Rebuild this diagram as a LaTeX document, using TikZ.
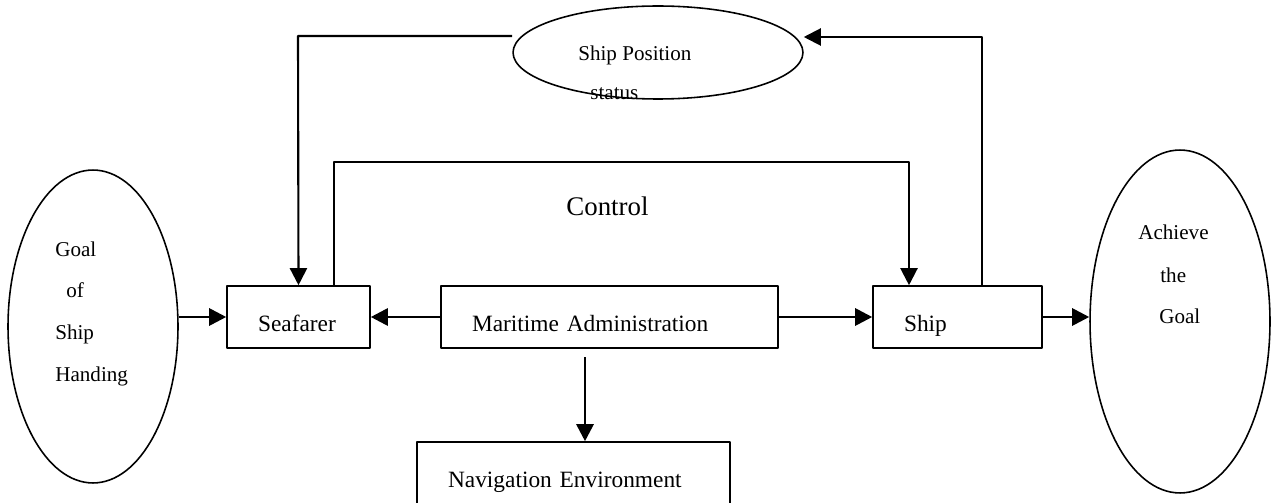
\documentclass[tikz,border=0pt]{standalone}
\usepackage{fontspec}
\setmainfont{Liberation Serif}
\usetikzlibrary{arrows.meta,shapes.geometric}
\begin{document}
\begin{tikzpicture}[line join=round, >={Triangle[length=0.34cm,width=0.34cm]},
		box/.style={draw,line width=0.9pt,rectangle,inner xsep=0.62cm,inner ysep=0.1cm,minimum height=1.24cm,align=left,text height=0.65cm,text depth=0.05cm,font=\fontsize{13.3}{16}\selectfont},
		oval/.style={draw,line width=0.9pt,ellipse,inner sep=0pt},
		word/.style={inner sep=0pt,anchor=base west,font=\fontsize{12}{14}\selectfont},
		arr/.style={->,line width=1.6pt},
		fb/.style={->,line width=1.2pt}]
				\begin{scope}[x=0.02cm,y=-0.02cm]
					\useasboundingbox (0,0) rectangle (1277,503);
					\node[oval,minimum width=3.4cm,minimum height=6.26cm] (goal) at (93,326.5) {};
					\node[oval,minimum width=3.6cm,minimum height=6.86cm] (ach) at (1180,321.5) {};
					\node[oval,minimum width=5.8cm,minimum height=1.86cm] (pos) at (658,52.5) {};
					\node[box,text width=1.62cm] (sea) at (298.5,317) {Seafarer};
					\node[box,text width=5.5cm] (mar) at (609.5,317) {Maritime Administration};
					\node[box,text width=2.14cm] (ship) at (957.5,317) {Ship};
					\node[box,text width=5.02cm,minimum height=1.32cm,text height=0.53cm] (nav) at (573.5,475) {Navigation Environment};
					\node[anchor=base,inner sep=0pt,font=\fontsize{15.3}{18}\selectfont] (ctrl) at (607.5,215) {Control};
					\foreach \n/\t/\x/\y in {g1/Goal/55/256, g2/of/66/297, g3/Ship/55/339, g4/Handing/55/381, a1/Achieve/1138/239, a2/the/1160/282, a3/Goal/1159/323, p1/Ship Position/578/61, p2/status/590/100}
					\node[word] (\n) at (\x,\y) {\t};
					\path (585,357)coordinate(down)(334,162)coordinate(c1)(909,162)coordinate(c2)(982,37)coordinate(u1)(298,36)coordinate(u2);
					\draw[arr](sea.west -| goal.east)--(sea.west);
					\draw[arr](mar.west)--(sea.east);
					\draw[arr](mar.east)--(ship.west);
					\draw[arr](ship.east)--(ship.east -| ach.west);
					\draw[arr](down)--(down |- nav.north);
					\draw[fb](sea.north -| c1)--(c1)--(c2)--(c2 |- ship.north);
					\draw[fb](ship.north -| u1)--(u1)--(u1 -| pos.east);
					\draw[fb](u2 -| pos.west)--(u2)--(sea.north);
				\end{scope}
		\end{tikzpicture}
\end{document}
